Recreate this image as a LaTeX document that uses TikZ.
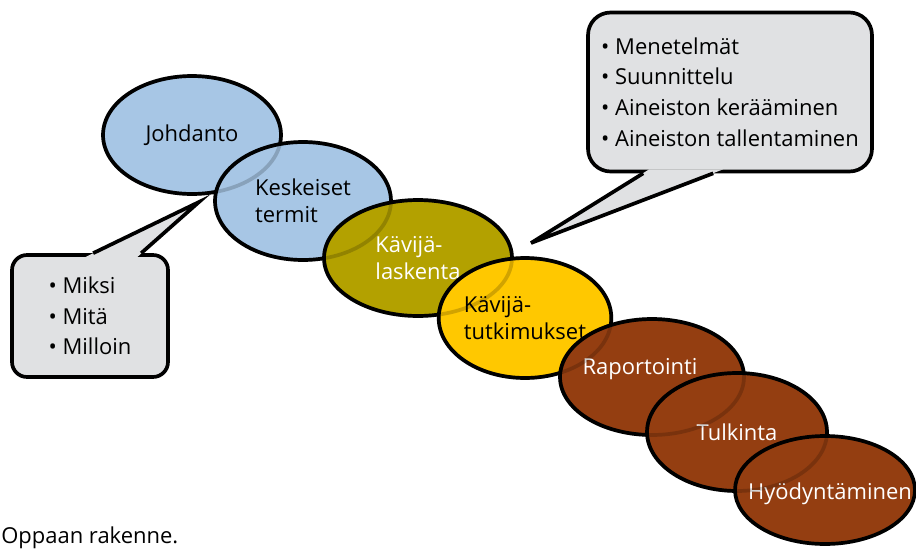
\documentclass[tikz,border=0pt]{standalone}
\usepackage{fontspec}
\setmainfont{Open Sans}
\usepackage{tikz}
\usetikzlibrary{shapes.geometric,calc}
\definecolor{termblue}{RGB}{167,198,229}
\definecolor{countolive}{RGB}{179,161,0}
\definecolor{surveyyellow}{RGB}{255,200,0}
\definecolor{reportbrown}{RGB}{148,62,17}
\definecolor{bubblegrey}{RGB}{224,225,227}
\tikzstyle{stage} = [ellipse,draw=black,line width=2.1pt,outer sep=0pt,inner sep=0pt,align=left,font=\fontsize{12.5}{15.5}\selectfont]
\tikzstyle{bubble} = [rectangle,draw=black,line width=2.1pt,fill=bubblegrey,align=left,inner sep=0pt]

\begin{document}
\begin{tikzpicture}[x=0.02cm,y=-0.02cm,
  font=\fontsize{12.5}{17.5}\selectfont,
  tail/.style={draw=black,line width=2.1pt,line join=miter},
  ghost/.style={draw=black,draw opacity=0.18,line width=2.1pt}]

  \useasboundingbox (0,0) rectangle (916,548);

  % speech bubbles
  \node[bubble,minimum width=3.12cm,minimum height=2.44cm,rounded corners=0.3cm] (why) at (90,316)
    {\textbullet\ Miksi\\ \textbullet\ Mitä\\ \textbullet\ Milloin};
  \coordinate (whytip) at (199,202);
  \fill[bubblegrey] ($(why.north west)+(75,4)$) -- (whytip) -- ($(why.north west)+(127,4)$) -- cycle;
  \draw[tail] ($(why.north west)+(83,0)$) -- (whytip) -- ($(why.north west)+(131,0)$);

  \node[bubble,minimum width=5.68cm,minimum height=3.18cm,rounded corners=0.45cm] (how) at (730,92)
    {\textbullet\ Menetelmät\\ \textbullet\ Suunnittelu\\ \textbullet\ Aineiston kerääminen\\ \textbullet\ Aineiston tallentaminen};
  \coordinate (howtip) at (531,243);
  \fill[bubblegrey] ($(how.south west)+(63,-4)$) -- (howtip) -- ($(how.south west)+(137,-4)$) -- cycle;
  \draw[tail] ($(how.south west)+(57,0)$) -- (howtip) -- ($(how.south west)+(127,0)$);

  % stages
  \node[stage,fill=termblue,minimum width=3.56cm,minimum height=2.36cm] (1) at (192,135) {Johdanto};
  \node[stage,fill=termblue,minimum width=3.52cm,minimum height=2.36cm] (2) at (303,201) {Keskeiset\\termit};
  \node[stage,fill=countolive,text=white,minimum width=3.76cm,minimum height=2.32cm] (3) at (418,258) {Kävijä-\\laskenta};
  \node[stage,fill=surveyyellow,minimum width=3.4cm,minimum height=2.4cm] (4) at (525,318) {Kävijä-\\tutkimukset};
  \node[stage,fill=reportbrown,minimum width=3.68cm,minimum height=2.32cm,
    label={[name=5text,text=white,xshift=-0.24cm,yshift=0.15cm]center:Raportointi}] (5) at (652,377) {};
  \node[stage,fill=reportbrown,text=white,minimum width=3.6cm,minimum height=2.36cm] (6) at (737,432) {Tulkinta};
  \node[stage,fill=reportbrown,minimum width=3.6cm,minimum height=2.16cm,
    label={[name=7text,text=white,xshift=0.1cm,yshift=-0.08cm]center:Hyödyntäminen}] (7) at (825,490) {};

  % hidden outlines
  \foreach \s in {1,...,6}
    \draw[ghost] let \p1=($(\s.east)-(\s.center)$), \p2=($(\s.north)-(\s.center)$) in
      (\s.center) ellipse [x radius=\x1, y radius=\y2];

  \node[anchor=base west,inner sep=0pt] (caption) at (1,543) {Oppaan rakenne.};

\end{tikzpicture}
\end{document}
